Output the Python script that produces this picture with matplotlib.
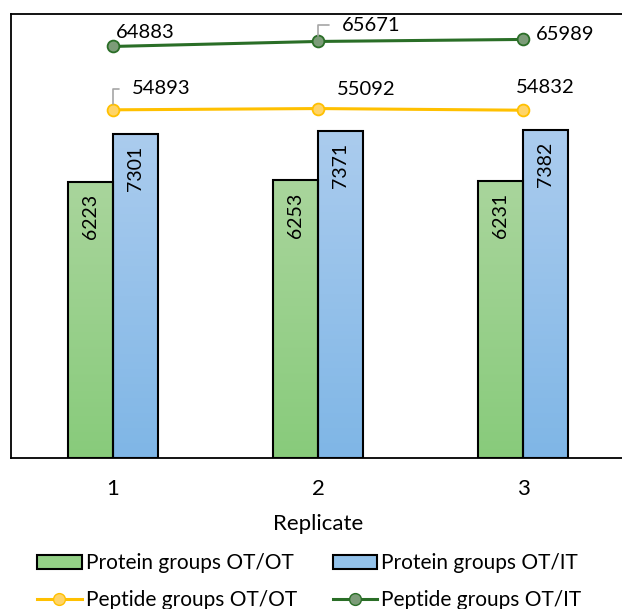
import matplotlib.pyplot as plt
import numpy as np
from matplotlib.patches import Patch
from matplotlib.lines import Line2D
from matplotlib.colors import LinearSegmentedColormap

plt.rcParams['font.family'] = ['Lato', 'DejaVu Sans']

replicates = ['1', '2', '3']
protein_ot_ot = [6223, 6253, 6231]
protein_ot_it = [7301, 7371, 7382]
peptide_ot_ot = [54893, 55092, 54832]
peptide_ot_it = [64883, 65671, 65989]

green_grad = LinearSegmentedColormap.from_list('g', ['#88cb7b', '#a9d59c'])
blue_grad = LinearSegmentedColormap.from_list('b', ['#7fb6e6', '#abccee'])

fig = plt.figure(figsize=(6.22, 6.09), dpi=100)
W, H = 622, 609
ax = fig.add_axes([10.5 / W, 1 - 458 / H, 615 / W, 444 / H])

x = np.arange(1, len(replicates) + 1)
bw = 0.22


def gradient_bars(ax, xs, vals, cmap):
    bars = ax.bar(xs, vals, bw, color='none', edgecolor='black', linewidth=1.5, zorder=3)
    grad = np.linspace(0, 1, 256).reshape(-1, 1)
    for b in bars:
        x0, y0 = b.get_x(), b.get_y()
        im = ax.imshow(grad, cmap=cmap, aspect='auto', origin='lower',
                       extent=[x0, x0 + b.get_width(), y0, y0 + b.get_height()],
                       zorder=2)
        im.set_clip_path(b)
    return bars


b1 = gradient_bars(ax, x - bw / 2, protein_ot_ot, green_grad)
b2 = gradient_bars(ax, x + bw / 2, protein_ot_it, blue_grad)

for bars, vals in ((b1, protein_ot_ot), (b2, protein_ot_it)):
    for b, v in zip(bars, vals):
        ax.annotate(f'{v}', (b.get_x() + b.get_width() / 2, v),
                    xytext=(0, -12), textcoords='offset pixels',
                    ha='center', va='top', rotation=90, fontsize=14, zorder=4)

ax.set_xlim(0.5, 3.5)
ax.set_ylim(0, 10000)
ax.set_xticks(x)
ax.set_xticklabels(replicates, fontsize=16)
ax.tick_params(axis='x', length=0, pad=15)
ax.set_yticks([])
ax.set_xlabel('Replicate', fontsize=16, labelpad=11)
for s in ax.spines.values():
    s.set_color('black')
    s.set_linewidth(1.3)

ax2 = ax.twinx()
ax2.set_ylim(0, 70000)
ax2.set_yticks([])
for s in ax2.spines.values():
    s.set_visible(False)

ax2.plot(x, peptide_ot_ot, color='#ffc000', lw=2.2, marker='o', ms=8.5,
         mfc='#ffd467', mec='#ffc000', mew=1.3)
ax2.plot(x, peptide_ot_it, color='#2a6e27', lw=2.2, marker='o', ms=8.5,
         mfc='#7c9c78', mec='#2a6e27', mew=1.3)

leader = dict(arrowstyle='-', color='#a6a6a6', lw=1.2, shrinkA=7, shrinkB=4,
              relpos=(0, 0.5), connectionstyle='angle,angleA=0,angleB=90,rad=0')
# label offsets in pixels: (dx to left edge, dy to centre, leader line)
offsets_it = [(3, 14, False), (24, 16, True), (13, 5, False)]
offsets_ot = [(19, 21, True), (19, 19, False), (-7, 23, False)]
for vals, offs in ((peptide_ot_it, offsets_it), (peptide_ot_ot, offsets_ot)):
    for xi, v, (dx, dy, lead) in zip(x, vals, offs):
        ax2.annotate(f'{v}', (xi, v), xytext=(dx, dy), textcoords='offset pixels',
                     ha='left', va='center', fontsize=14.5,
                     arrowprops=leader if lead else None)

handles = [
    Patch(facecolor='#94d087', edgecolor='black', linewidth=1.5),
    Line2D([], [], color='#ffc000', lw=2.2, marker='o', ms=8.5, mfc='#ffd467', mec='#ffc000'),
    Patch(facecolor='#93c2ea', edgecolor='black', linewidth=1.5),
    Line2D([], [], color='#2a6e27', lw=2.2, marker='o', ms=8.5, mfc='#7c9c78', mec='#2a6e27'),
]
labels = ['Protein groups OT/OT', 'Peptide groups OT/OT',
          'Protein groups OT/IT', 'Peptide groups OT/IT']
fig.legend(handles, labels, loc='upper left', bbox_to_anchor=(37 / W, 1 - 553 / H),
           ncol=2, frameon=False, fontsize=15, handlelength=2.15, handleheight=0.65,
           handletextpad=0.2, columnspacing=1.7, labelspacing=0.8,
           borderpad=0, borderaxespad=0)

fig.savefig('out.png', dpi=100)
